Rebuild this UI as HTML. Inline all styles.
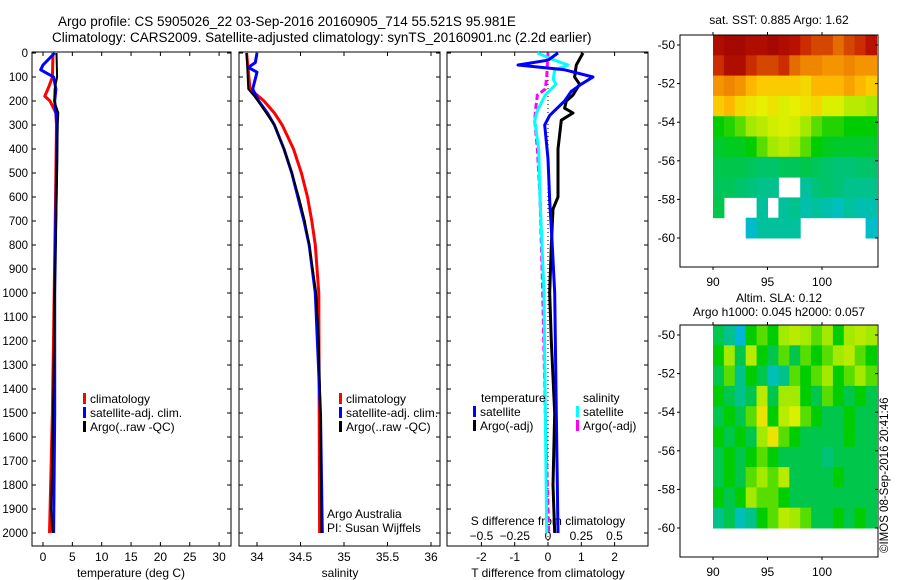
<!DOCTYPE html>
<html><head><meta charset="utf-8"><style>
html,body{margin:0;padding:0;background:#fff;width:900px;height:580px;overflow:hidden}
svg text{font-family:"Liberation Sans",sans-serif;fill:#000}
</style></head><body>
<svg id="fig" width="900" height="580" viewBox="0 0 900 580" xmlns="http://www.w3.org/2000/svg">
<text x="58" y="26" font-size="13.5">Argo profile: CS 5905026_22 03-Sep-2016 20160905_714 55.521S 95.981E</text>
<text x="52" y="42" font-size="13.5">Climatology: CARS2009. Satellite-adjusted climatology: synTS_20160901.nc (2.2d earlier)</text>
<text x="779" y="24" font-size="12" text-anchor="middle">sat. SST: 0.885 Argo: 1.62</text>
<text x="779" y="302" font-size="12" text-anchor="middle">Altim. SLA: 0.12</text>
<text x="779" y="316" font-size="12" text-anchor="middle">Argo h1000: 0.045 h2000: 0.057</text>
<text x="0" y="0" font-size="11.5" transform="translate(888,553) rotate(-90)">©IMOS 08-Sep-2016 20:41:46</text>
<g id="g"></g>
</svg>
<script>
// ---------- data ----------
const tDepthClim=[0,100,140,180,200,250,300,500,1000,1500,2000];
const tClim=[1.7,1.6,1.0,0.3,1.2,2.2,2.3,2.2,1.9,1.6,1.1];
const tDepthSat=[0,50,70,100,150,200,300,500,1000,1500,2000];
const tSat=[2.0,0.0,-0.4,1.8,2.2,2.0,2.4,2.3,2.0,2.0,1.8];
const tDepthArgo=[0,100,150,200,250,300,500,1000,1500,1900,2000];
const tArgo=[2.3,2.4,2.0,1.9,2.6,2.5,2.4,2.0,1.7,1.4,1.6];

const sDepthClim=[0,150,200,250,300,400,500,600,700,800,1000,2000];
const sClim=[33.88,33.92,34.08,34.2,34.29,34.42,34.51,34.58,34.63,34.67,34.71,34.72];
const sDepthSat=[0,40,60,80,150,200,250,300,400,500,600,700,800,1000,1500,2000];
const sSat=[34.0,33.98,33.9,34.0,33.95,34.02,34.12,34.2,34.31,34.4,34.47,34.54,34.6,34.67,34.73,34.75];
const sDepthArgo=[0,150,180,220,300,400,500,600,700,800,1000,1200,1500,2000];
const sArgo=[33.88,33.9,33.97,34.05,34.2,34.31,34.4,34.48,34.55,34.6,34.68,34.71,34.73,34.74];

const dDepthTArgo=[0,50,100,130,175,200,230,250,280,400,600,650,800,1000,1200,1500,1800,2000];
const dTArgo=[1.05,0.85,0.8,0.95,0.75,0.55,0.5,0.75,0.4,0.3,0.3,0.15,0.1,0.05,0.1,0.2,0.15,0.2];
const dDepthTSat=[0,30,50,70,100,130,160,200,260,300,440,615,780,1000,1500,2000];
const dTSat=[0.3,0,-0.9,0.5,1.35,1.0,0.7,0.5,0.05,-0.1,0,0.05,0.12,0.2,0.25,0.3];
const dDepthSSat=[0,30,50,70,110,130,175,240,280,400,600,800,1000,1500,2000];
const dSSat=[-0.08,0.05,0.15,0.05,0.04,0.06,-0.02,-0.08,-0.1,-0.07,-0.06,-0.045,-0.03,-0.02,-0.01];
const dDepthSArgo=[0,100,150,175,220,280,400,600,1000,1500,2000];
const dSArgo=[0,-0.01,-0.02,-0.08,-0.09,-0.1,-0.08,-0.06,-0.04,-0.02,0.005];

const depthTicks=[0,100,200,300,400,500,600,700,800,900,1000,1100,1200,1300,1400,1500,1600,1700,1800,1900,2000];
const tTicks=[0,5,10,15,20,25,30];
const sTicks=[34,34.5,35,35.5,36];
const dtTicks=[-2,-1,0,1,2];
const dsTicks=[-0.5,-0.25,0,0.25,0.5];
const latTicks=[-50,-52,-54,-56,-58,-60];
const lonTicks=[90,95,100];

const sstGrid=[
[0.95,0.97,0.97,0.95,0.95,0.97,0.95,0.93,0.9,0.88,0.88,0.85,0.88,0.9,0.93],
[0.9,0.95,0.95,0.9,0.88,0.88,0.9,0.85,0.82,0.82,0.8,0.8,0.82,0.8,0.8],
[0.8,0.82,0.8,0.75,0.72,0.72,0.72,0.72,0.7,0.75,0.75,0.75,0.78,0.75,0.72],
[0.72,0.75,0.7,0.68,0.66,0.68,0.65,0.66,0.68,0.7,0.65,0.65,0.62,0.62,0.6],
[0.5,0.52,0.55,0.6,0.62,0.64,0.65,0.64,0.6,0.55,0.52,0.52,0.5,0.5,0.5],
[0.47,0.48,0.48,0.5,0.55,0.6,0.62,0.6,0.55,0.5,0.48,0.47,0.47,0.47,0.47],
[0.45,0.45,0.45,0.44,0.43,0.43,0.44,0.44,0.45,0.44,0.43,0.42,0.42,0.43,0.43],
[0.44,0.44,0.43,0.42,0.4,0.4,null,null,0.38,0.42,0.43,0.42,0.4,0.4,0.4],
[0.45,null,null,null,0.38,null,0.38,0.4,0.36,0.38,0.36,0.34,0.38,0.36,0.36],
[null,null,null,0.32,0.38,0.38,0.38,0.38,null,null,null,null,null,null,0.33]];
const slaGrid=[
[0.45,0.4,0.3,0.5,0.55,0.5,0.6,0.62,0.6,0.55,0.6,0.5,0.6,0.62,0.6],
[0.5,0.6,0.45,0.62,0.5,0.45,0.55,0.45,0.55,0.5,0.55,0.6,0.62,0.55,0.5],
[0.45,0.55,0.4,0.5,0.45,0.35,0.4,0.55,0.5,0.55,0.6,0.5,0.55,0.6,0.55],
[0.5,0.45,0.4,0.45,0.62,0.45,0.6,0.6,0.5,0.45,0.55,0.5,0.45,0.5,0.45],
[0.45,0.5,0.45,0.55,0.68,0.5,0.62,0.65,0.55,0.5,0.45,0.45,0.5,0.45,0.45],
[0.5,0.45,0.5,0.45,0.6,0.68,0.55,0.5,0.45,0.45,0.45,0.45,0.5,0.45,0.45],
[0.45,0.5,0.45,0.5,0.55,0.5,0.45,0.45,0.45,0.45,0.42,0.45,0.45,0.45,0.45],
[0.45,0.5,0.45,0.55,0.6,0.55,0.62,0.45,0.45,0.45,0.45,0.5,0.45,0.45,0.45],
[0.5,0.45,0.5,0.6,0.55,0.55,0.5,0.45,0.45,0.45,0.45,0.45,0.45,0.45,0.45],
[0.4,0.45,0.35,0.4,0.5,0.55,0.62,0.6,0.55,0.45,0.45,0.5,0.45,0.5,0.45]];

// ---------- drawing ----------
const NS="http://www.w3.org/2000/svg";
const G=document.getElementById('g');
function el(tag,attrs,parent){const e=document.createElementNS(NS,tag);for(const k in attrs)e.setAttribute(k,attrs[k]);(parent||G).appendChild(e);return e;}
function txt(s,x,y,size,anchor,name){const t=el('text',{x:x,y:y,'font-size':size,'text-anchor':anchor||'start'});t.textContent=s;


return t;}
const yD=d=>53+d*0.24;
const BOT=546, TOP=52;

function panel(x0,x1,name){const r=el('rect',{x:x0,y:TOP,width:x1-x0,height:BOT-TOP,fill:'none',stroke:'#000','stroke-width':1});

}
function line(xs,ds,fx,color,name,w,dash){
 const pts=xs.map((v,i)=>fx(v).toFixed(1)+','+yD(ds[i]).toFixed(1)).join(' ');
 const p=el('polyline',{points:pts,fill:'none',stroke:color,'stroke-width':w||3,'stroke-linejoin':'round'});
 if(dash)p.setAttribute('stroke-dasharray',dash);
 
 }
function xticks(ticks,fx,y,labels,name){ticks.forEach((t,i)=>{const x=fx(t);
 el('line',{x1:x,y1:BOT,x2:x,y2:BOT-4,stroke:'#000'});el('line',{x1:x,y1:TOP,x2:x,y2:TOP+4,stroke:'#000'});
 txt(labels?labels[i]:String(t),x,y,12,'middle',name);});}
function legend(x,y,items,prefix){items.forEach((it,i)=>{const r=el('rect',{x:x,y:y+i*14-6,width:3,height:11,fill:it[0]});
 
 
 txt(it[1],x+7,y+i*14+4,12,'start',prefix+'-label');});}

// panel 1 temperature
const fT=v=>43+v*5.87;
panel(32,231,'temperature-panel');
depthTicks.forEach(d=>{const y=yD(d);el('line',{x1:32,y1:y,x2:36,y2:y,stroke:'#000'});el('line',{x1:231,y1:y,x2:227,y2:y,stroke:'#000'});
 txt(String(d),28,y+4,11.5,'end','depth-tick-label');});
xticks(tTicks,fT,561,null,'temperature-tick-label');
txt('temperature (deg C)',131,577,12,'middle','temperature-axis-title');
line(tClim,tDepthClim,fT,'#f00','temperature-climatology-line');
line(tSat,tDepthSat,fT,'#00f','temperature-satellite-line');
line(tArgo,tDepthArgo,fT,'#000','temperature-argo-line',2);
legend(83,399,[['#f00','climatology'],['#00f','satellite-adj. clim.'],['#000','Argo(..raw -QC)']],'temperature-legend');

// panel 2 salinity
const fS=v=>257+(v-34)*87;
panel(239,440,'salinity-panel');
depthTicks.forEach(d=>{const y=yD(d);el('line',{x1:239,y1:y,x2:243,y2:y,stroke:'#000'});el('line',{x1:440,y1:y,x2:436,y2:y,stroke:'#000'});});
xticks(sTicks,fS,561,null,'salinity-tick-label');
txt('salinity',340,577,12,'middle','salinity-axis-title');
line(sClim,sDepthClim,fS,'#f00','salinity-climatology-line');
line(sSat,sDepthSat,fS,'#00f','salinity-satellite-line');
line(sArgo,sDepthArgo,fS,'#000','salinity-argo-line',2);
legend(339,399,[['#f00','climatology'],['#00f','satellite-adj. clim.'],['#000','Argo(..raw -QC)']],'salinity-legend');
txt('Argo Australia',327,518,12,'start','float-operator-label');
txt('PI: Susan Wijffels',327,532,12,'start','float-pi-label');

// panel 3 differences
const fdT=v=>548+v*33.3, fdS=v=>548+v*133;
panel(447,648,'difference-panel');
depthTicks.forEach(d=>{const y=yD(d);el('line',{x1:447,y1:y,x2:451,y2:y,stroke:'#000'});el('line',{x1:648,y1:y,x2:644,y2:y,stroke:'#000'});});
xticks(dtTicks,fdT,561,null,'t-difference-tick-label');
dsTicks.forEach(t=>txt(String(t).replace('-','\u2212'),fdS(t),540,12,'middle','s-difference-tick-label'));
txt('S difference from climatology',548,525,12,'middle','s-difference-axis-title');
txt('T difference from climatology',548,577,12,'middle','t-difference-axis-title');
const z=el('line',{x1:548,y1:TOP,x2:548,y2:BOT,stroke:'#000','stroke-dasharray':'1,3'});


line(dSArgo,dDepthSArgo,fdS,'#f0f','s-difference-argo-line',3,'6,3');
line(dSSat,dDepthSSat,fdS,'#0ff','s-difference-satellite-line');
line(dTArgo,dDepthTArgo,fdT,'#000','t-difference-argo-line');
line(dTSat,dDepthTSat,fdT,'#00f','t-difference-satellite-line');
txt('temperature',481,402,12,'start','t-legend-title');
txt('salinity',583,402,12,'start','s-legend-title');
legend(473,412,[['#00f','satellite'],['#000','Argo(-adj)']],'t-difference-legend');
legend(576,412,[['#0ff','satellite'],['#f0f','Argo(-adj)']],'s-difference-legend');

// maps
const cmapStops=[[0,[0,0,140]],[0.2,[0,150,255]],[0.33,[0,190,200]],[0.42,[0,195,120]],[0.5,[0,205,0]],[0.58,[140,230,0]],[0.66,[230,240,0]],[0.74,[255,190,0]],[0.84,[235,120,0]],[0.92,[190,20,0]],[1,[150,0,0]]];
function cmap(v){for(let i=1;i<cmapStops.length;i++){const a=cmapStops[i-1],b=cmapStops[i];if(v<=b[0]){const f=(v-a[0])/(b[0]-a[0]);
 return 'rgb('+a[1].map((c,k)=>Math.round(c+(b[1][k]-c)*f)).join(',')+')';}}return 'rgb(150,0,0)';}
const fLon=l=>713+(l-90)*10.9;
function map(grid,top,dataBot,boxBot,name){
 const rows=grid.length, ch=(dataBot-top)/rows;
 grid.forEach((row,i)=>row.forEach((v,j)=>{if(v===null)return;
  const r=el('rect',{x:fLon(90+j).toFixed(1),y:(top+i*ch).toFixed(1),width:11.4,height:(ch+0.5).toFixed(1),fill:cmap(v)});
  
  }));
 const b=el('rect',{x:680,y:top,width:198,height:boxBot-top,fill:'none',stroke:'#000'});
 
 
 const fLat=la=>top+10+(-50-la)*((dataBot-top-10)/10);
 latTicks.concat([-62]).forEach(la=>{const y=fLat(la);if(y>boxBot)return;
  el('line',{x1:680,y1:y,x2:677,y2:y,stroke:'#000'});el('line',{x1:878,y1:y,x2:875,y2:y,stroke:'#000'});
  if(la>-62)txt(String(la),675,y+4,12,'end',name+'-lat-label');});
 lonTicks.forEach(l=>{const x=fLon(l);el('line',{x1:x,y1:boxBot,x2:x,y2:boxBot+3,stroke:'#000'});el('line',{x1:x,y1:top,x2:x,y2:top-3,stroke:'#000'});
  txt(String(l),x,boxBot+19,12,'middle',name+'-lon-label');});
}
map(sstGrid,35,238,267,'sst-map');
map(slaGrid,325,528,557,'sla-map');
</script>
</body></html>
